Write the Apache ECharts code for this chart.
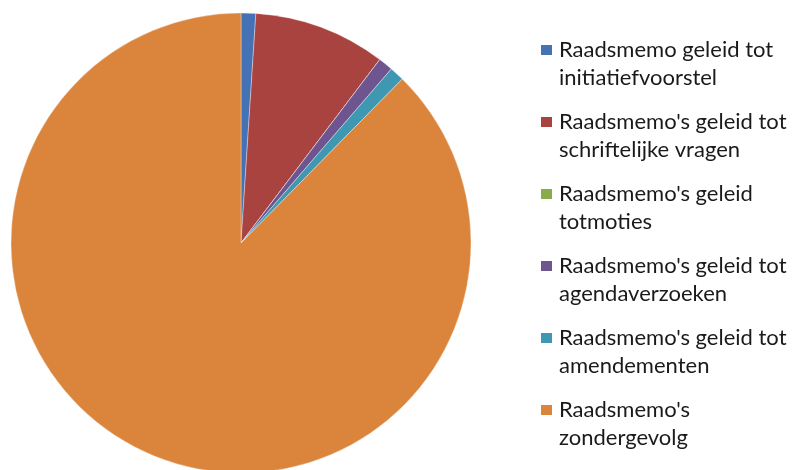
<!DOCTYPE html>
<html><head><meta charset="utf-8">
<script src="https://cdn.jsdelivr.net/npm/echarts@6/dist/echarts.min.js"></script>
<style>html,body{margin:0;padding:0;background:#fff}#c{width:795px;height:470px}</style>
</head><body><div id="c"></div>
<script>
const categories = [
  "Raadsmemo geleid tot\ninitiatiefvoorstel",
  "Raadsmemo's geleid tot\nschriftelijke vragen",
  "Raadsmemo's geleid\ntotmoties",
  "Raadsmemo's geleid tot\nagendaverzoeken",
  "Raadsmemo's geleid tot\namendementen",
  "Raadsmemo's\nzondergevolg"
];
const values = [1, 9, 0, 1, 1, 85];
const colors = ["#4472B4", "#A9433F", "#8AAB4C", "#6F5590", "#3F98B1", "#DA843C"];

const legendIcon = 'path://M0,9L11,9L11,19L0,19Z M0,0L0.01,0L0.01,0.01Z M13,56L12.99,56L12.99,55.99Z';

const chart = echarts.init(document.getElementById('c'), null, {renderer: 'canvas'});
chart.setOption({
  animation: false,
  color: colors,
  legend: {
    orient: 'vertical',
    left: 541,
    top: 36,
    padding: 0,
    itemGap: 16,
    itemWidth: 13,
    itemHeight: 56,
    icon: legendIcon,
    selectedMode: false,
    itemStyle: {borderWidth: 0},
    textStyle: {
      fontFamily: 'Lato',
      fontSize: 22,
      color: '#1a1a1a',
      lineHeight: 28
    },
    data: categories
  },
  series: [{
    type: 'pie',
    center: [241, 243],
    radius: 230,
    startAngle: 90,
    clockwise: true,
    label: {show: false},
    labelLine: {show: false},
    silent: true,
    itemStyle: {borderColor: 'rgba(255,255,255,0.5)', borderWidth: 0.7},
    data: categories.map((n, i) => ({name: n, value: values[i]}))
  }]
});
</script></body></html>
